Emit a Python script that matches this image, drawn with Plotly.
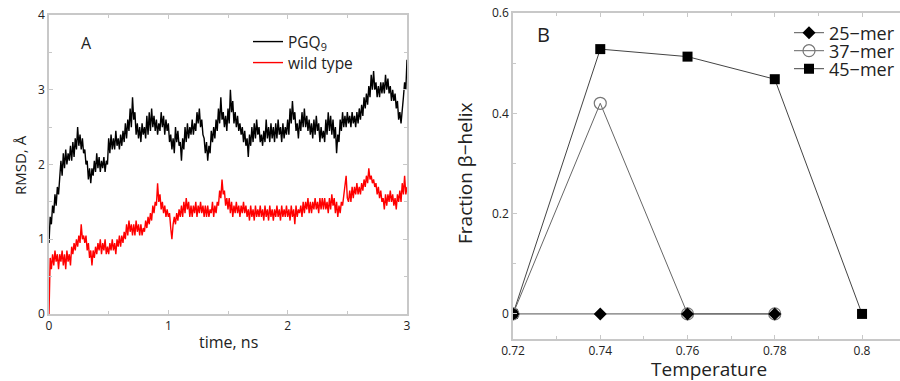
import numpy as np
import plotly.graph_objects as go

# ---------------- Panel A data (RMSD vs time, sampled every 0.01 ns) ----------------
pgq9_rmsd = [
    0.95, 1.3, 1.2, 1.45, 1.35, 1.6, 1.45, 1.7, 1.6, 1.9,
    2.05, 1.85, 2.15, 1.95, 2.2, 2.0, 2.15, 2.05, 2.25, 2.05,
    2.3, 2.1, 2.35, 2.2, 2.5, 2.25, 2.4, 2.2, 2.35, 2.15,
    2.2, 2.0, 2.05, 1.8, 1.95, 1.75, 1.95, 1.85, 2.05, 1.9,
    2.15, 1.95, 2.1, 1.9, 2.05, 1.95, 2.1, 1.9, 2.05, 2.0,
    2.35, 2.15, 2.4, 2.2, 2.35, 2.2, 2.45, 2.25, 2.35, 2.2,
    2.4, 2.25, 2.45, 2.3, 2.55, 2.35, 2.6, 2.45, 2.75, 2.5,
    2.9, 2.6, 2.7, 2.4, 2.55, 2.35, 2.5, 2.3, 2.55, 2.4,
    2.5, 2.35, 2.65, 2.4, 2.7, 2.45, 2.75, 2.5, 2.65, 2.45,
    2.6, 2.4, 2.55, 2.45, 2.7, 2.5, 2.65, 2.4, 2.6, 2.45,
    2.55, 2.3, 2.4, 2.2, 2.35, 2.15, 2.5, 2.3, 2.45, 2.25,
    2.3, 2.05, 2.35, 2.2, 2.5, 2.3, 2.55, 2.35, 2.5, 2.4,
    2.6, 2.4, 2.55, 2.45, 2.7, 2.55, 2.75, 2.5, 2.6, 2.4,
    2.35, 2.15, 2.3, 2.05, 2.25, 2.15, 2.45, 2.3, 2.5, 2.35,
    2.6, 2.45, 2.75, 2.55, 2.9, 2.6, 2.7, 2.5, 2.65, 2.45,
    2.75, 2.55, 3.0, 2.7, 2.85, 2.55, 2.7, 2.5, 2.65, 2.45,
    2.55, 2.4, 2.5, 2.3, 2.45, 2.25, 2.35, 2.1, 2.4, 2.25,
    2.5, 2.3, 2.55, 2.35, 2.6, 2.4, 2.5, 2.3, 2.4, 2.25,
    2.45, 2.3, 2.6, 2.35, 2.5, 2.3, 2.55, 2.35, 2.5, 2.3,
    2.55, 2.35, 2.6, 2.4, 2.5, 2.3, 2.55, 2.35, 2.5, 2.4,
    2.6, 2.4, 2.75, 2.55, 2.85, 2.6, 2.7, 2.45, 2.55, 2.35,
    2.6, 2.45, 2.7, 2.5, 2.75, 2.5, 2.65, 2.45, 2.6, 2.4,
    2.55, 2.35, 2.6, 2.4, 2.65, 2.45, 2.55, 2.3, 2.5, 2.35,
    2.45, 2.3, 2.6, 2.4, 2.7, 2.45, 2.65, 2.4, 2.6, 2.35,
    2.5, 2.15, 2.4, 2.3, 2.6, 2.45, 2.7, 2.5, 2.65, 2.5,
    2.7, 2.55, 2.65, 2.5, 2.7, 2.55, 2.65, 2.5, 2.7, 2.55,
    2.75, 2.6, 2.8, 2.65, 2.9, 2.75, 2.95, 2.8, 3.05, 2.9,
    3.2, 3.0, 3.25, 3.0, 3.1, 2.9, 3.05, 2.9, 3.1, 2.95,
    3.1, 2.95, 3.2, 3.0, 3.15, 2.95, 3.05, 2.85, 3.0, 2.85,
    2.95, 2.75, 2.85, 2.6, 2.7, 2.55, 2.8, 2.9, 3.1, 3.0,
    3.4,
]

wild_type_rmsd = [
    0.0, 0.75, 0.6, 0.8, 0.65, 0.85, 0.7, 0.8, 0.6, 0.8,
    0.7, 0.85, 0.65, 0.8, 0.6, 0.85, 0.7, 0.8, 0.65, 0.9,
    0.8, 0.95, 0.85, 1.0, 0.9, 1.05, 0.95, 1.2, 1.0, 1.05,
    0.95, 1.05, 0.85, 0.95, 0.75, 0.85, 0.65, 0.85, 0.75, 0.9,
    0.8, 0.95, 0.85, 1.0, 0.8, 0.95, 0.85, 1.0, 0.8, 0.9,
    0.8, 0.95, 0.85, 1.0, 0.85, 0.95, 0.8, 1.0, 0.9, 1.05,
    0.9, 1.05, 0.95, 1.1, 1.0, 1.2, 1.05, 1.25, 1.1, 1.2,
    1.05, 1.2, 1.05, 1.25, 1.1, 1.2, 1.05, 1.2, 1.05, 1.15,
    1.1, 1.25, 1.15, 1.3, 1.2, 1.35, 1.25, 1.45, 1.35, 1.5,
    1.45, 1.75, 1.5, 1.6, 1.4, 1.5, 1.35, 1.45, 1.3, 1.4,
    1.3, 1.35, 1.15, 1.0, 1.2, 1.3, 1.2, 1.35, 1.25, 1.4,
    1.3, 1.45, 1.3, 1.5, 1.35, 1.55, 1.4, 1.5, 1.3, 1.45,
    1.3, 1.45, 1.35, 1.5, 1.3, 1.45, 1.35, 1.5, 1.35, 1.45,
    1.3, 1.45, 1.3, 1.45, 1.3, 1.4, 1.35, 1.5, 1.3, 1.45,
    1.35, 1.5, 1.45, 1.65, 1.55, 1.8, 1.6, 1.65, 1.45, 1.55,
    1.4, 1.55, 1.35, 1.5, 1.3, 1.45, 1.35, 1.5, 1.35, 1.45,
    1.3, 1.45, 1.35, 1.5, 1.35, 1.45, 1.3, 1.4, 1.25, 1.45,
    1.3, 1.4, 1.25, 1.45, 1.3, 1.4, 1.3, 1.45, 1.3, 1.4,
    1.25, 1.45, 1.3, 1.4, 1.25, 1.45, 1.3, 1.4, 1.25, 1.4,
    1.3, 1.45, 1.3, 1.4, 1.25, 1.45, 1.3, 1.4, 1.3, 1.45,
    1.3, 1.4, 1.25, 1.45, 1.3, 1.4, 1.2, 1.45, 1.3, 1.4,
    1.35, 1.45, 1.3, 1.5, 1.35, 1.5, 1.4, 1.55, 1.35, 1.5,
    1.35, 1.5, 1.4, 1.55, 1.4, 1.5, 1.35, 1.55, 1.4, 1.55,
    1.4, 1.55, 1.4, 1.5, 1.35, 1.55, 1.4, 1.6, 1.45, 1.55,
    1.35, 1.5, 1.3, 1.45, 1.35, 1.5, 1.45, 1.6, 1.7, 1.85,
    1.55, 1.5, 1.65, 1.5, 1.7, 1.55, 1.7, 1.6, 1.75, 1.6,
    1.7, 1.6, 1.75, 1.65, 1.8, 1.7, 1.85, 1.75, 1.95, 1.8,
    1.85, 1.75, 1.8, 1.7, 1.75, 1.6, 1.7, 1.55, 1.65, 1.5,
    1.55, 1.4, 1.6, 1.45, 1.6, 1.5, 1.65, 1.5, 1.6, 1.45,
    1.55, 1.4, 1.6, 1.5, 1.65, 1.5, 1.75, 1.6, 1.85, 1.6,
    1.7,
]

time_pgq9 = np.linspace(0, 3, len(pgq9_rmsd))
time_wt = np.linspace(0, 3, len(wild_type_rmsd))

# ---------------- Panel B data (fraction beta-helix vs temperature) ----------------
temp_25 = [0.72, 0.74, 0.76, 0.78]
frac_25 = [0.0, 0.0, 0.0, 0.0]
temp_37 = [0.72, 0.74, 0.76, 0.78]
frac_37 = [0.0, 0.42, 0.0, 0.0]
temp_45 = [0.72, 0.74, 0.76, 0.78, 0.80]
frac_45 = [0.0, 0.528, 0.513, 0.468, 0.0]

FONT = "Open Sans"
FRAME = "#c8c8c8"
TXT = "#222222"
W, H = 900, 381

fig = go.Figure()

# Panel A traces
fig.add_trace(go.Scatter(x=time_pgq9, y=pgq9_rmsd, mode="lines", name="PGQ<sub>9</sub>",
                         line=dict(color="black", width=1.4), xaxis="x", yaxis="y",
                         legend="legend"))
fig.add_trace(go.Scatter(x=time_wt, y=wild_type_rmsd, mode="lines", name="wild type",
                         line=dict(color="#ff0000", width=1.4), xaxis="x", yaxis="y",
                         legend="legend2"))

# Panel B traces
fig.add_trace(go.Scatter(x=temp_45, y=frac_45, mode="lines+markers", name="45\u2212mer",
                         line=dict(color="#444444", width=1),
                         marker=dict(symbol="square", size=10, color="black"),
                         xaxis="x2", yaxis="y2", legend="legend5"))
fig.add_trace(go.Scatter(x=temp_37, y=frac_37, mode="lines+markers", name="37\u2212mer",
                         line=dict(color="#666666", width=1),
                         marker=dict(symbol="circle-open", size=12, color="#777777",
                                     line=dict(width=1.2, color="#777777")),
                         xaxis="x2", yaxis="y2", legend="legend4"))
fig.add_trace(go.Scatter(x=temp_25, y=frac_25, mode="lines+markers", name="25\u2212mer",
                         line=dict(color="#555555", width=1),
                         marker=dict(symbol="diamond", size=10, color="black"),
                         xaxis="x2", yaxis="y2", legend="legend3"))

axis_common = dict(showgrid=False, zeroline=False, showline=True, linecolor=FRAME,
                   linewidth=1.5, ticks="inside", ticklen=4, tickcolor=FRAME,
                   automargin=False,
                   tickfont=dict(family=FONT, size=12, color=TXT))


def leg(xpx, ypx, size, xanchor="left"):
    return dict(x=xpx / W, y=1 - ypx / H, xanchor=xanchor, yanchor="middle",
                bgcolor="rgba(0,0,0,0)", borderwidth=0, visible=True,
                font=dict(family=FONT, size=size, color=TXT), itemwidth=30)


fig.update_layout(
    width=W, height=H,
    showlegend=True,
    margin=dict(l=0, r=0, t=0, b=0, autoexpand=False),
    paper_bgcolor="white", plot_bgcolor="white",
    font=dict(family=FONT, color=TXT),
    xaxis=dict(domain=[49 / W, 407 / W], range=[0, 3], dtick=1, mirror="ticks",
               minor=dict(dtick=0.5, ticks="inside", ticklen=3, tickcolor=FRAME),
               anchor="y", **axis_common),
    yaxis=dict(domain=[1 - 314 / H, 1 - 15 / H], range=[0, 4], dtick=1, mirror="ticks",
               minor=dict(dtick=0.5, ticks="inside", ticklen=3, tickcolor=FRAME),
               anchor="x", **axis_common),
    xaxis2=dict(domain=[513 / W, 1.0], range=[0.72, 0.8087], dtick=0.02, tick0=0.72,
                mirror="ticks",
                minor=dict(dtick=0.01, ticks="inside", ticklen=3, tickcolor=FRAME),
                anchor="y2", **axis_common),
    yaxis2=dict(domain=[1 - 339 / H, 1 - 13 / H], range=[-0.05, 0.6], dtick=0.2, tick0=0,
                minor=dict(dtick=0.1, ticks="inside", ticklen=3, tickcolor=FRAME),
                anchor="x2", **axis_common),
    legend=leg(248, 42, 15.5),
    legend2=leg(248, 63, 15.5),
    legend3=leg(900, 33, 18, "right"),
    legend4=leg(900, 51, 18, "right"),
    legend5=leg(900, 69, 18, "right"),
)

ann = [
    ("A", 86, 43, 16, 0),
    ("B", 543, 34, 20, 0),
    ("RMSD, \u00c5", 20, 165, 15, -90),
    ("time, ns", 228, 342, 16, 0),
    ("Fraction \u03b2\u2212helix", 465, 173, 19, -90),
    ("Temperature", 709, 369, 19, 0),
]
for text, xp, yp, size, ang in ann:
    fig.add_annotation(text=text, x=xp / W, y=1 - yp / H, xref="paper", yref="paper",
                       xanchor="center", yanchor="middle", showarrow=False,
                       textangle=ang, font=dict(family=FONT, size=size, color=TXT))

fig.write_html("out.html", config={"displayModeBar": False},
               post_script="document.body.style.margin='0';document.body.style.overflow='hidden';")
